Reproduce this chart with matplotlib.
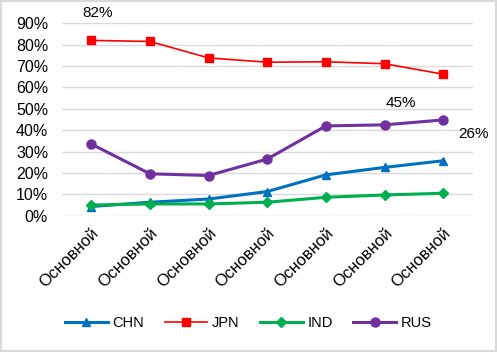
import matplotlib.pyplot as plt
import matplotlib.ticker as mtick

# Data (shares, 0..1)
categories = ["Основной"] * 7
chn = [0.043, 0.063, 0.078, 0.113, 0.191, 0.226, 0.257]
jpn = [0.820, 0.815, 0.738, 0.718, 0.720, 0.711, 0.662]
ind = [0.050, 0.055, 0.055, 0.063, 0.086, 0.097, 0.105]
rus = [0.335, 0.196, 0.188, 0.265, 0.420, 0.425, 0.448]

x = range(len(categories))

plt.rcParams['font.family'] = ['Liberation Sans', 'DejaVu Sans']

fig = plt.figure(figsize=(4.97, 3.52), dpi=100)
ax = fig.add_axes([62/497, (352-215.7)/352, (472.5-62)/497, (215.7-23.3)/352])

ax.plot(x, chn, '-^', color='#0070C0', lw=2.2, ms=6, label='CHN')
ax.plot(x, jpn, '-s', color='#FF0000', lw=1.2, ms=6, label='JPN')
ax.plot(x, ind, '-D', color='#00B050', lw=2.2, ms=5, label='IND')
ax.plot(x, rus, '-o', color='#7030A0', lw=2.2, ms=6.5, label='RUS')

# data labels (offsets in pixels from the points)
ax.annotate("82%", (0, jpn[0]), xytext=(6, 27), textcoords='offset pixels',
            ha='center', va='center', fontsize=11, annotation_clip=False)
ax.annotate("45%", (6, rus[6]), xytext=(-42, 17), textcoords='offset pixels',
            ha='center', va='center', fontsize=11, annotation_clip=False)
ax.annotate("26%", (6, chn[6]), xytext=(30, 27), textcoords='offset pixels',
            ha='center', va='center', fontsize=11, annotation_clip=False)

ax.set_xlim(-0.5, len(categories) - 0.5)
ax.set_ylim(0, 0.9)
ax.set_yticks([i/10 for i in range(10)])
ax.yaxis.set_major_formatter(mtick.PercentFormatter(1.0, decimals=0))
ax.set_xticks(list(x))
ax.set_xticklabels(categories, rotation=45, ha='right', va='top',
                   rotation_mode='anchor', fontsize=12)
ax.tick_params(axis='y', labelsize=11.5, length=0, pad=10)
ax.tick_params(axis='x', length=0, pad=7)
ax.grid(axis='y', color='#d9d9d9', lw=1)
ax.set_axisbelow(True)
for s in ax.spines.values():
    s.set_visible(False)

fig.legend(loc='center', bbox_to_anchor=(0.5, (352-323)/352), ncol=4,
           frameon=False, fontsize=10.5, handlelength=2.9, columnspacing=1.4,
           handletextpad=0.35)

# light gray border around the chart area
fig.patches.append(plt.Rectangle((0.002, 0.003), 0.996, 0.994, transform=fig.transFigure,
                                 fill=False, edgecolor='#d9d9d9', lw=1.5))

fig.savefig("out.png", dpi=100)
